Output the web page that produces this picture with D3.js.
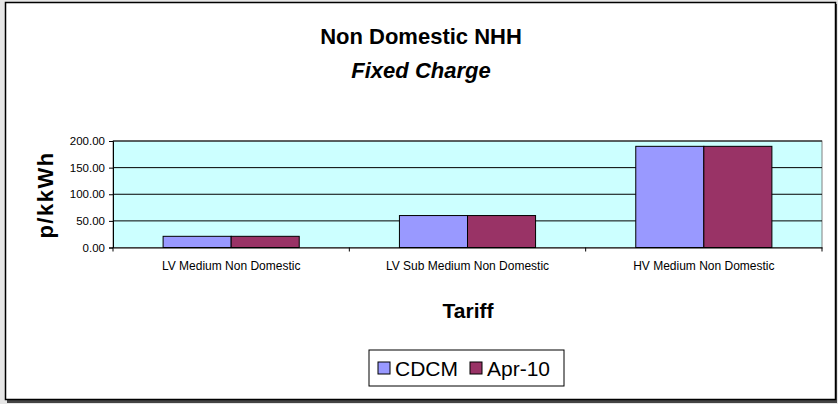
<!DOCTYPE html>
<html>
  <head>
    <title>Non Domestic NHH</title>
    <script src="https://d3js.org/d3.v7.min.js"></script>
    <style>
      body { margin: 0; background: #e6e6e6; }
      text { font-family: Arial, "Liberation Sans", sans-serif; }
    </style>
  </head>
  <body>
    <svg width="838" height="404" id="mainsvg"></svg>
    <script>
        const categories = ['LV Medium Non Domestic', 'LV Sub Medium Non Domestic', 'HV Medium Non Domestic'];
        const seriesNames = ['CDCM', 'Apr-10'];
        const cdcmValues = [21, 60, 190];
        const apr10Values = [21, 60, 190];
        const yTicks = [0, 50, 100, 150, 200];
        const colors = ['#9999ff', '#993366'];

        const svg = d3.select('#mainsvg');

        // chart frame with shadow
        svg.append('rect').attr('x', 7).attr('y', 4).attr('width', 830).attr('height', 399).attr('fill', '#444');
        svg.append('rect').attr('x', 5.5).attr('y', 2.5).attr('width', 830).attr('height', 397)
          .attr('fill', '#fff').attr('stroke', '#000').attr('stroke-width', 1.5);

        const margin = {top: 141, left: 113};
        const innerWidth = 709, innerHeight = 106.5;
        const g = svg.append('g').attr('transform', `translate(${margin.left}, ${margin.top})`);

        const xScale = d3.scaleBand().domain(categories).range([0, innerWidth]);
        const inner = d3.scaleBand().domain(seriesNames)
          .range([xScale.bandwidth() * 0.212, xScale.bandwidth() * 0.788]);
        const yScale = d3.scaleLinear().domain([0, 200]).range([innerHeight, 0]);

        g.append('rect').attr('width', innerWidth).attr('height', innerHeight)
          .attr('fill', '#ccffff').attr('stroke', '#808080').attr('stroke-width', 1);

        // gridlines
        g.selectAll('.grid').data(yTicks.slice(1)).join('line')
          .attr('x1', 0).attr('x2', innerWidth)
          .attr('y1', d => yScale(d)).attr('y2', d => yScale(d))
          .attr('stroke', '#000').attr('stroke-width', 1);

        const data = categories.map((c, i) => ({cat: c, values: [cdcmValues[i], apr10Values[i]]}));
        const groups = g.selectAll('.grp').data(data).join('g')
          .attr('transform', d => `translate(${xScale(d.cat)}, 0)`);
        groups.selectAll('rect').data(d => d.values.map((v, j) => ({s: seriesNames[j], v, j}))).join('rect')
          .attr('x', d => inner(d.s)).attr('width', inner.bandwidth())
          .attr('y', d => yScale(d.v)).attr('height', d => innerHeight - yScale(d.v))
          .attr('fill', d => colors[d.j]).attr('stroke', '#000').attr('stroke-width', 1);

        // axes
        const yAxis = d3.axisLeft(yScale).tickValues(yTicks).tickFormat(d3.format('.2f')).tickSize(4).tickPadding(4);
        const ya = g.append('g').call(yAxis);
        ya.select('.domain').attr('stroke', '#000');
        ya.selectAll('text').attr('font-size', 11.5).attr('fill', '#000');

        const xAxis = d3.axisBottom(xScale).tickSize(0).tickPadding(14);
        const xa = g.append('g').attr('transform', `translate(0, ${innerHeight})`).call(xAxis);
        xa.select('.domain').attr('stroke', '#000');
        xa.selectAll('text').attr('font-size', 12).attr('fill', '#000');
        xa.selectAll('.sep').data(d3.range(categories.length + 1)).join('line')
          .attr('x1', i => i * xScale.step()).attr('x2', i => i * xScale.step())
          .attr('y1', 0).attr('y2', 4).attr('stroke', '#000');

        // titles
        svg.append('text').text('Non Domestic NHH').attr('x', 421).attr('y', 44)
          .attr('text-anchor', 'middle').attr('font-size', 22).attr('font-weight', 'bold');
        svg.append('text').text('Fixed Charge').attr('x', 421).attr('y', 78)
          .attr('text-anchor', 'middle').attr('font-size', 22).attr('font-weight', 'bold').attr('font-style', 'italic');
        svg.append('text').text('p/kkWh').attr('transform', 'translate(53, 195) rotate(-90)')
          .attr('text-anchor', 'middle').attr('font-size', 22).attr('font-weight', 'bold').attr('letter-spacing', 1.5);
        svg.append('text').text('Tariff').attr('x', 468).attr('y', 318)
          .attr('text-anchor', 'middle').attr('font-size', 21).attr('font-weight', 'bold');

        // legend
        const lg = svg.append('g').attr('transform', 'translate(369, 350)');
        lg.append('rect').attr('width', 195).attr('height', 36).attr('fill', '#fff').attr('stroke', '#000');
        const items = lg.selectAll('.item').data(seriesNames).join('g')
          .attr('transform', (d, i) => `translate(${[9, 101][i]}, 0)`);
        items.append('rect').attr('y', 12).attr('width', 12).attr('height', 12)
          .attr('fill', (d, i) => colors[i]).attr('stroke', '#000');
        items.append('text').text(d => d).attr('x', 17).attr('y', 26).attr('font-size', 21);
    </script>
  </body>
</html>
